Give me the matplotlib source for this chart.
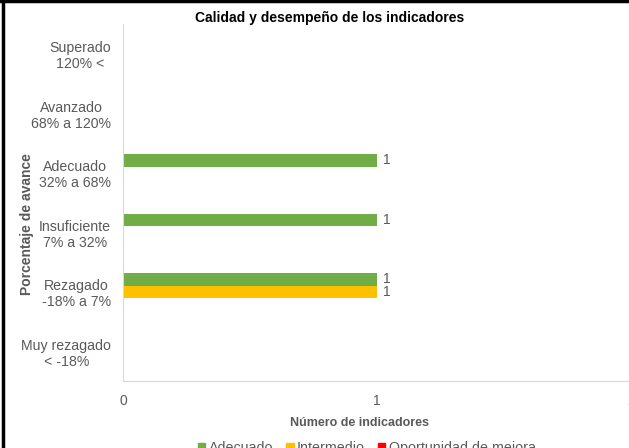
import numpy as np
import matplotlib.pyplot as plt
from matplotlib.lines import Line2D

plt.rcParams['font.family'] = ['Liberation Sans', 'DejaVu Sans']

categories = ['Superado\n120% <', 'Avanzado\n68% a 120%', 'Adecuado\n32% a 68%',
              'Insuficiente\n7% a 32%', 'Rezagado\n-18% a 7%', 'Muy rezagado\n< -18%']
series_names = ['Adecuado', 'Intermedio', 'Oportunidad de mejora']
adecuado = [0, 0, 1, 1, 1, 0]
intermedio = [0, 0, 0, 0, 1, 0]
oportunidad = [0, 0, 0, 0, 0, 0]
colors = ['#70AD47', '#FFC000', '#FF0000']
gray = '#595959'

fig = plt.figure(figsize=(6.29, 4.48), dpi=100)
ax = fig.add_axes([123/629, 1 - 381/448, 508/629, 357/448])

y = np.arange(len(categories))
h = 0.21
for i, (vals, name, c) in enumerate(zip([adecuado, intermedio, oportunidad], series_names, colors)):
    pos = y + (i - 1) * h
    ax.barh(pos, vals, height=h, color=c, label=name)
    for p, v in zip(pos, vals):
        if v:
            ax.text(v + 0.025, p, str(v), va='center', ha='left', fontsize=10, color=gray)

ax.set_ylim(len(categories) - 0.5, -0.5)
ax.set_xlim(0, 2)
ax.set_yticks(y)
ax.set_yticklabels(categories, fontsize=10.2, color=gray, multialignment='center')
ax.set_xticks([0, 1, 2])
ax.tick_params(axis='x', length=0, pad=9, labelsize=10, labelcolor=gray)
ax.tick_params(axis='y', length=0, pad=8.5)
for s in ['top', 'right']:
    ax.spines[s].set_visible(False)
for s in ['left', 'bottom']:
    ax.spines[s].set_color('#D9D9D9')

fig.text(330/629, 1 - 18/448, 'Calidad y desempeño de los indicadores',
         ha='center', va='center', fontsize=10, fontweight='bold', color='black')
fig.text(360/629, 1 - 423/448, 'Número de indicadores', ha='center', va='center',
         fontsize=9, fontweight='bold', color=gray)
fig.text(27.5/629, 1 - 224/448, 'Porcentaje de avance', ha='center', va='center',
         rotation=90, fontsize=10, fontweight='bold', color=gray)

handles = [plt.Rectangle((0, 0), 1, 1, color=c) for c in colors]
leg = fig.legend(handles, series_names, loc='center', bbox_to_anchor=(367/629, 1 - 448/448),
                 ncol=3, frameon=False, fontsize=10.3, handlelength=0.5, handleheight=0.5,
                 handletextpad=0.25, columnspacing=0.9, borderpad=0, borderaxespad=0)
for t in leg.get_texts():
    t.set_color(gray)

fig.add_artist(Line2D([0, 1], [0.998, 0.998], color='black', lw=2.5, transform=fig.transFigure))
fig.add_artist(Line2D([3.5/629, 3.5/629], [0, 1], color='black', lw=2.5, transform=fig.transFigure))

fig.savefig('out.png', dpi=100)
